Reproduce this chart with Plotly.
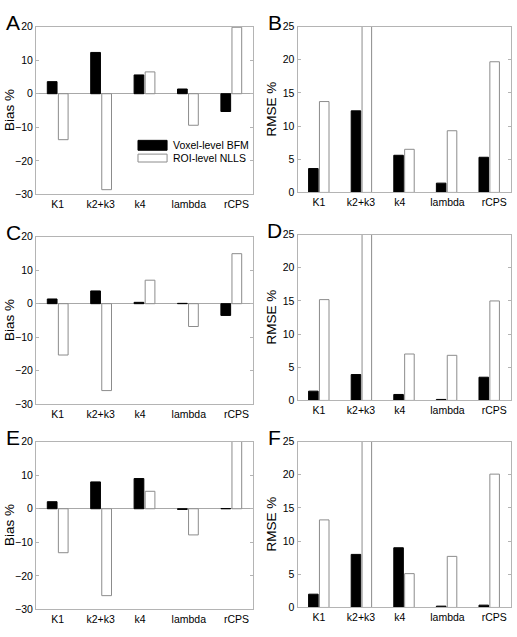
import plotly.graph_objects as go

# ---------------- data ----------------
CATEGORIES = ["K1", "k2+k3", "k4", "lambda", "rCPS"]
SERIES_NAMES = ["Voxel-level BFM", "ROI-level NLLS"]

BIAS_A_VOXEL = [3.6, 12.3, 5.6, 1.4, -5.3]
BIAS_A_ROI = [-13.7, -28.6, 6.5, -9.4, 19.8]
RMSE_B_VOXEL = [3.6, 12.3, 5.6, 1.4, 5.3]
RMSE_B_ROI = [13.7, 28.6, 6.5, 9.3, 19.7]

BIAS_C_VOXEL = [1.4, 3.8, 0.4, 0.1, -3.5]
BIAS_C_ROI = [-15.3, -25.9, 7.0, -6.8, 14.9]
RMSE_D_VOXEL = [1.4, 3.9, 0.9, 0.15, 3.5]
RMSE_D_ROI = [15.2, 25.9, 7.0, 6.8, 15.0]

BIAS_E_VOXEL = [2.1, 8.0, 9.0, -0.2, 0.05]
BIAS_E_ROI = [-13.1, -25.9, 5.2, -7.8, 20.05]
RMSE_F_VOXEL = [2.0, 8.0, 9.0, 0.2, 0.35]
RMSE_F_ROI = [13.2, 25.9, 5.1, 7.7, 20.1]

BIAS_TICKS = [-30, -20, -10, 0, 10, 20]
RMSE_TICKS = [0, 5, 10, 15, 20, 25]

# ---------------- layout helpers ----------------
W, H = 517, 637
FONT = "Liberation Sans, Arial, Helvetica, sans-serif"
AXCOL = "#b4b4b4"
XPOS = list(range(1, len(CATEGORIES) + 1))
XTICK_POS = [1.0, 1.99, 2.9, 4.02, 5.12]

# panel pixel boxes: (left, right, top, bottom)
BOXES = {
    "A": (36, 253, 21, 192),
    "B": (297.5, 510.5, 21, 190),
    "C": (36, 253, 235, 406),
    "D": (297.5, 510.5, 233, 402),
    "E": (36, 253, 444, 615),
    "F": (297.5, 510.5, 444, 613),
}
PANELS = [
    ("A", BIAS_A_VOXEL, BIAS_A_ROI, "bias"),
    ("B", RMSE_B_VOXEL, RMSE_B_ROI, "rmse"),
    ("C", BIAS_C_VOXEL, BIAS_C_ROI, "bias"),
    ("D", RMSE_D_VOXEL, RMSE_D_ROI, "rmse"),
    ("E", BIAS_E_VOXEL, BIAS_E_ROI, "bias"),
    ("F", RMSE_F_VOXEL, RMSE_F_ROI, "rmse"),
]

fig = go.Figure()
layout = dict(
    width=W, height=H,
    margin=dict(l=0, r=0, t=0, b=0),
    paper_bgcolor="white", plot_bgcolor="white",
    barmode="group", bargap=0.49, bargroupgap=0.12,
    showlegend=False,
    font=dict(family=FONT, size=10.5, color="black"),
)
annotations = []
shapes = []

for i, (letter, vox, roi, kind) in enumerate(PANELS):
    n = i + 1
    xa = "x" if n == 1 else f"x{n}"
    ya = "y" if n == 1 else f"y{n}"
    l, r, t, b = BOXES[letter]
    fig.add_trace(go.Bar(
        x=XPOS, y=vox, name=SERIES_NAMES[0], xaxis=xa, yaxis=ya,
        marker=dict(color="black", line=dict(color="black", width=1)),
        offsetgroup="1",
    ))
    fig.add_trace(go.Bar(
        x=XPOS, y=roi, name=SERIES_NAMES[1], xaxis=xa, yaxis=ya,
        marker=dict(color="white", line=dict(color="#8c8c8c", width=1)),
        offsetgroup="2",
    ))
    xkey = "xaxis" if n == 1 else f"xaxis{n}"
    ykey = "yaxis" if n == 1 else f"yaxis{n}"
    layout[xkey] = dict(
        domain=[l / W, r / W], anchor=ya, range=[0.5, 5.5],
        tickmode="array", tickvals=XTICK_POS, ticktext=CATEGORIES,
        ticks="", showline=True, mirror=True, linecolor=AXCOL, linewidth=1,
        showgrid=False, zeroline=False, ticklabelstandoff=0,
        tickfont=dict(family=FONT, size=10.5, color="black"),
        fixedrange=True,
    )
    if kind == "bias":
        yr, yt, title, tx = [-30, 20], BIAS_TICKS, "Bias %", 9.5
    else:
        yr, yt, title, tx = [0, 25], RMSE_TICKS, "RMSE %", 272
    layout[ykey] = dict(
        domain=[1 - b / H, 1 - t / H], anchor=xa, range=yr,
        tickmode="array", tickvals=yt,
        ticks="inside", ticklen=3, tickcolor=AXCOL, tickwidth=1,
        showline=True, mirror="ticks", linecolor=AXCOL, linewidth=1,
        showgrid=False, zeroline=(kind == "bias"), zerolinecolor="#a8a8a8",
        zerolinewidth=1,
        tickfont=dict(family=FONT, size=10.5, color="black"),
        fixedrange=True,
    )
    # y-axis title
    annotations.append(dict(
        text=title, x=tx / W, y=1 - ((t + b) / 2) / H, xref="paper", yref="paper",
        xanchor="center", yanchor="middle", textangle=-90, showarrow=False,
        font=dict(family=FONT, size=13.5, color="black"),
    ))
    # panel letter
    annotations.append(dict(
        text=letter, x=(l - 23) / W, y=1 - (t - 4) / H, xref="paper", yref="paper",
        xanchor="center", yanchor="middle", showarrow=False,
        font=dict(family=FONT, size=21, color="black"),
    ))

# legend in panel A
leg_items = [
    (SERIES_NAMES[0], "black", "black", 0.263, 0.322),
    (SERIES_NAMES[1], "white", "#8c8c8c", 0.193, 0.240),
]
for name, fill, line, y0, y1 in leg_items:
    shapes.append(dict(type="rect", xref="x domain", yref="y domain",
                       x0=0.470, x1=0.604, y0=y0, y1=y1,
                       fillcolor=fill, line=dict(color=line, width=1)))
    annotations.append(dict(text=name, xref="x domain", yref="y domain",
                            x=0.622, y=(y0 + y1) / 2, xanchor="left",
                            yanchor="middle", showarrow=False,
                            font=dict(family=FONT, size=10.5, color="black")))

layout["annotations"] = annotations
layout["shapes"] = shapes
fig.update_layout(**layout)
fig.write_html(
    "out.html",
    config={"displayModeBar": False, "staticPlot": True},
    post_script="document.body.style.margin='0';document.body.style.overflow='hidden';",
)
